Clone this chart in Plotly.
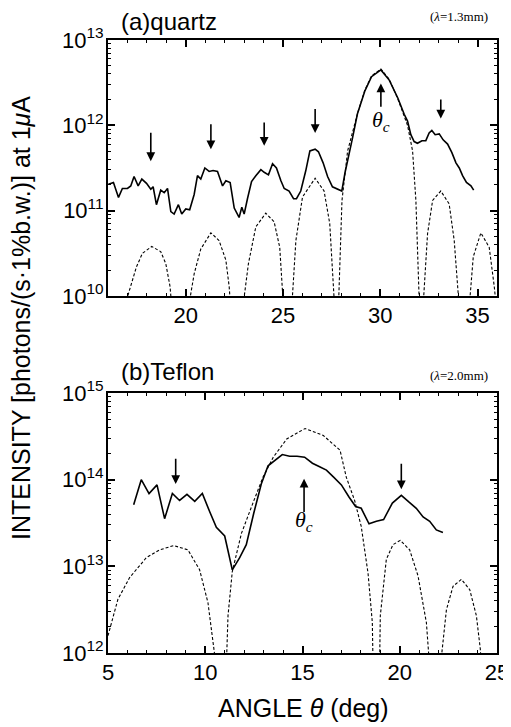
import plotly.graph_objects as go

# ---------------- data (angles in deg, intensities as log10 exponents) ----------------
# (a) quartz, measured
qa_x = [16.02, 16.28, 16.54, 16.74, 17.0, 17.17, 17.34, 17.55, 17.74, 17.98, 18.2, 18.32, 18.49,
        18.71, 18.89, 19.06, 19.23, 19.4, 19.62, 19.79, 20.0, 20.2, 20.43, 20.6, 20.77, 20.98, 21.2,
        21.4, 21.63, 21.89, 22.06, 22.28, 22.49, 22.74, 22.88, 23.0, 23.17, 23.38, 23.6, 23.86, 24.03,
        24.25, 24.46, 24.66, 24.89, 25.06, 25.31, 25.54, 25.69, 25.91, 26.17, 26.38, 26.65, 26.82,
        27.06, 27.29, 27.54, 27.8, 28.02, 28.19, 28.37, 28.57, 28.83, 29.2, 29.55, 30.03, 30.46,
        30.9, 31.23, 31.4, 31.57, 31.74, 31.91, 32.14, 32.34, 32.51, 32.65, 32.82, 33.03, 33.23,
        33.46, 33.68, 33.89, 34.06, 34.23, 34.43, 34.66, 34.8]
qa_log = [11.31, 11.33, 11.155, 11.26, 11.26, 11.29, 11.40, 11.29, 11.37, 11.32, 11.25, 11.28, 11.07,
          11.24, 11.21, 11.26, 10.99, 10.96, 11.07, 10.96, 11.02, 11.01, 11.19, 11.41, 11.37, 11.50, 11.46,
          11.47, 11.46, 11.29, 11.35, 11.33, 11.03, 10.92, 11.04, 10.96, 11.14, 11.34, 11.41, 11.48, 11.45,
          11.42, 11.55, 11.50, 11.35, 11.26, 11.23, 11.14, 11.14, 11.23, 11.47, 11.70, 11.72, 11.69,
          11.56, 11.40, 11.28, 11.25, 11.23, 11.45, 11.66, 11.85, 12.14, 12.40, 12.57, 12.65, 12.53,
          12.32, 12.13, 12.05, 11.89, 11.81, 11.79, 11.82, 11.82, 11.91, 11.94, 11.89, 11.90, 11.83,
          11.78, 11.68, 11.56, 11.50, 11.41, 11.33, 11.29, 11.24]

# (a) quartz, calculated (lobes separated by None)
qc_x = [16.95, 17.17, 17.46, 17.77, 18.25, 18.71, 18.97, 19.19, 19.25, None,
        20.2, 20.43, 20.77, 21.29, 21.71, 22.06, 22.23, 22.28, None,
        22.98, 23.22, 23.6, 24.11, 24.54, 24.83, 25.0, None,
        25.47, 25.66, 26.0, 26.65, 27.11, 27.4, 27.63, None,
        27.86, 28.03, 28.32, 28.83, 29.2, 29.55, 30.03, 30.46, 30.9, 31.23, 31.4, 31.66, 31.83, 32.0, None,
        32.22, 32.43, 32.69, 33.11, 33.54, 33.8, 34.03, None,
        34.6, 34.78, 35.17, 35.6, 35.86, 35.95]
qc_log = [9.95, 10.13, 10.34, 10.50, 10.58, 10.52, 10.38, 10.11, 9.95, None,
          9.95, 10.26, 10.55, 10.74, 10.65, 10.42, 10.11, 9.95, None,
          9.95, 10.38, 10.81, 10.97, 10.87, 10.57, 9.95, None,
          9.95, 10.65, 11.16, 11.38, 11.23, 10.85, 9.95, None,
          9.95, 11.12, 11.70, 12.14, 12.41, 12.58, 12.66, 12.54, 12.31, 12.10, 12.0, 11.70, 11.12, 9.95, None,
          9.95, 10.73, 11.12, 11.23, 11.08, 10.65, 9.95, None,
          9.95, 10.46, 10.74, 10.57, 10.11, 9.9]

# (b) Teflon, measured
tm_x = [6.32, 6.71, 7.11, 7.52, 7.91, 8.31, 8.68, 9.06, 9.46, 9.85, 10.23, 10.57, 11.0, 11.39, 11.77,
        12.11, 12.49, 12.88, 13.23, 13.57, 13.96, 14.34, 14.72, 15.11, 15.51, 15.88, 16.23, 16.6,
        17.0, 17.39, 17.73, 18.02, 18.42, 18.8, 19.17, 19.62, 20.08, 20.48, 20.85, 21.2, 21.54,
        21.88, 22.22]
tm_log = [13.71, 14.0, 13.84, 13.94, 13.55, 13.84, 13.76, 13.83, 13.75, 13.84, 13.63, 13.45, 13.35,
          12.96, 13.10, 13.25, 13.61, 13.95, 14.16, 14.22, 14.29, 14.27, 14.27, 14.26, 14.19, 14.15,
          14.11, 14.03, 13.94, 13.80, 13.69, 13.67, 13.49, 13.52, 13.54, 13.73, 13.82, 13.74, 13.67,
          13.57, 13.52, 13.42, 13.39]

# (b) Teflon, calculated
tc_x = [5.0, 5.51, 6.11, 6.97, 7.66, 8.38, 9.11, 9.71, 10.14, 10.43, 10.5, None,
        11.1, 11.17, 11.39, 11.86, 12.45, 12.97, 13.5, 14.19, 15.13, 16.07, 16.93, 17.25, 17.68,
        18.02, 18.37, 18.59, 18.62, None,
        18.97, 19.0, 19.31, 19.65, 20.03, 20.51, 20.94, 21.37, 21.5, None,
        22.14, 22.4, 22.74, 23.17, 23.6, 23.94, 24.14, 24.17]
tc_log = [12.2, 12.62, 12.87, 13.10, 13.19, 13.24, 13.19, 12.96, 12.58, 12.05, 11.95, None,
          11.95, 12.43, 12.94, 13.38, 13.73, 14.03, 14.26, 14.47, 14.59, 14.51, 14.34, 14.03, 13.76,
          13.46, 12.92, 12.35, 11.95, None,
          11.95, 12.43, 13.08, 13.25, 13.30, 13.19, 12.89, 12.35, 11.95, None,
          11.95, 12.5, 12.77, 12.85, 12.73, 12.43, 12.05, 11.95]

# arrows: x, tail log10, head log10
qa_arrows_x = [18.2, 21.29, 24.03, 26.65, 33.11]
qa_arrows_tail = [11.93, 12.03, 12.05, 12.21, 12.32]
qa_arrows_head = [11.58, 11.72, 11.76, 11.91, 12.08]
qa_thc = (30.03, 12.20, 12.49, 12.05)   # x, tail, head, label y
tm_arrows_x = [8.48, 20.08]
tm_arrows_tail = [14.26, 14.20]
tm_arrows_head = [13.95, 13.89]
tm_thc = (15.08, 13.61, 14.01, 13.52)

def tolin(v):
    return [None if e is None else 10 ** e for e in v]

FONT = "Arial, Liberation Sans, sans-serif"
SERIF = "Times New Roman, Liberation Serif, serif"

fig = go.Figure()
fig.add_trace(go.Scatter(x=qc_x, y=tolin(qc_log), mode="lines", xaxis="x", yaxis="y",
                         line=dict(color="black", width=1.1, dash="3px,2px"), connectgaps=False))
fig.add_trace(go.Scatter(x=qa_x, y=tolin(qa_log), mode="lines", xaxis="x", yaxis="y",
                         line=dict(color="black", width=1.6)))
fig.add_trace(go.Scatter(x=tc_x, y=tolin(tc_log), mode="lines", xaxis="x2", yaxis="y2",
                         line=dict(color="black", width=1.1, dash="3px,2px"), connectgaps=False))
fig.add_trace(go.Scatter(x=tm_x, y=tolin(tm_log), mode="lines", xaxis="x2", yaxis="y2",
                         line=dict(color="black", width=1.6)))

def minor_vals(lo, hi):
    return [m * 10 ** k for k in range(lo, hi) for m in range(2, 10)]

def sup(k):
    return "10<sup>%d</sup>" % k

common_x = dict(showline=True, linecolor="black", linewidth=2, mirror="allticks",
                ticks="inside", ticklen=7, tickwidth=1.5, tickcolor="black",
                showgrid=False, zeroline=False, automargin=False, ticklabelstandoff=-1,
                tickfont=dict(family=FONT, size=22, color="black"),
                minor=dict(ticks="inside", ticklen=3, tickwidth=1, tickcolor="black", dtick=1, showgrid=False))
common_y = dict(type="log", showline=True, linecolor="black", linewidth=2, mirror="allticks",
                ticks="inside", ticklen=7, tickwidth=1.5, tickcolor="black",
                showgrid=False, zeroline=False, automargin=False, ticklabelstandoff=-2,
                tickfont=dict(family=FONT, size=22, color="black"))

# page body has an 8px default margin: the figure is sized so that it fills the 511x727 window
fig.update_layout(
    width=503, height=719,
    margin=dict(l=100, r=14, t=32, b=74),
    paper_bgcolor="white", plot_bgcolor="white",
    showlegend=False,
    xaxis=dict(domain=[0, 1], anchor="y", range=[16, 36], tickvals=[20, 25, 30, 35], **common_x),
    yaxis=dict(domain=[0.5824, 1], anchor="x", range=[10, 13],
               tickvals=[1e10, 1e11, 1e12, 1e13], ticktext=[sup(k) for k in range(10, 14)],
               minor=dict(ticks="inside", ticklen=3, tickwidth=1, tickcolor="black",
                          tickvals=minor_vals(10, 13), showgrid=False),
               **common_y),
    xaxis2=dict(domain=[0, 1], anchor="y2", range=[5, 25], tickvals=[5, 10, 15, 20, 25], **common_x),
    yaxis2=dict(domain=[0, 0.4241], anchor="x2", range=[12, 15],
                tickvals=[1e12, 1e13, 1e14, 1e15], ticktext=[sup(k) for k in range(12, 16)],
                minor=dict(ticks="inside", ticklen=3, tickwidth=1, tickcolor="black",
                           tickvals=minor_vals(12, 15), showgrid=False),
                **common_y),
)

ann = []
def arrow(xref, yref, x, tail, head):
    ann.append(dict(xref=xref, yref=yref, axref=xref, ayref=yref, x=x, y=head, ax=x, ay=tail,
                    showarrow=True, arrowhead=2, arrowsize=1.1, arrowwidth=1.6, arrowcolor="black",
                    text=""))

for x, t, h in zip(qa_arrows_x, qa_arrows_tail, qa_arrows_head):
    arrow("x", "y", x, t, h)
arrow("x", "y", qa_thc[0], qa_thc[1], qa_thc[2])
for x, t, h in zip(tm_arrows_x, tm_arrows_tail, tm_arrows_head):
    arrow("x2", "y2", x, t, h)
arrow("x2", "y2", tm_thc[0], tm_thc[1], tm_thc[2])

ann.append(dict(xref="x", yref="y", x=qa_thc[0], y=qa_thc[3], showarrow=False,
                text="<i>θ<sub>c</sub></i>", font=dict(family=SERIF, size=22, color="black")))
ann.append(dict(xref="x2", yref="y2", x=tm_thc[0], y=tm_thc[3], showarrow=False,
                text="<i>θ<sub>c</sub></i>", font=dict(family=SERIF, size=22, color="black")))

# panel titles (positions expressed in window pixels relative to plot area 108..497 x 40..653)
ann.append(dict(xref="paper", yref="paper", x=(119 - 108) / 389, y=(653 - 21) / 613,
                xanchor="left", yanchor="middle", showarrow=False, text="(a)quartz",
                font=dict(family=FONT, size=24, color="black")))
ann.append(dict(xref="paper", yref="paper", x=(490 - 108) / 389, y=(653 - 17) / 613,
                xanchor="right", yanchor="middle", showarrow=False, text="(<i>λ</i>=1.3mm)",
                font=dict(family=SERIF, size=13, color="black")))
ann.append(dict(xref="paper", yref="paper", x=(119 - 108) / 389, y=(653 - 372) / 613,
                xanchor="left", yanchor="middle", showarrow=False, text="(b)Teflon",
                font=dict(family=FONT, size=24, color="black")))
ann.append(dict(xref="paper", yref="paper", x=(490 - 108) / 389, y=(653 - 375) / 613,
                xanchor="right", yanchor="middle", showarrow=False, text="(<i>λ</i>=2.0mm)",
                font=dict(family=SERIF, size=13, color="black")))

# axis titles
ann.append(dict(xref="paper", yref="paper", x=(21 - 108) / 389, y=(653 - 318) / 613,
                xanchor="center", yanchor="middle", showarrow=False, textangle=-90,
                text="INTENSITY [photons/(s·1%b.w.)] at 1<i>μ</i>A",
                font=dict(family=FONT, size=25, color="black")))
ann.append(dict(xref="paper", yref="paper", x=(303 - 108) / 389, y=(653 - 708) / 613,
                xanchor="center", yanchor="middle", showarrow=False,
                text="ANGLE <i>θ</i> (deg)",
                font=dict(family=FONT, size=25, color="black")))

fig.update_layout(annotations=ann)
fig.write_html("out.html")
